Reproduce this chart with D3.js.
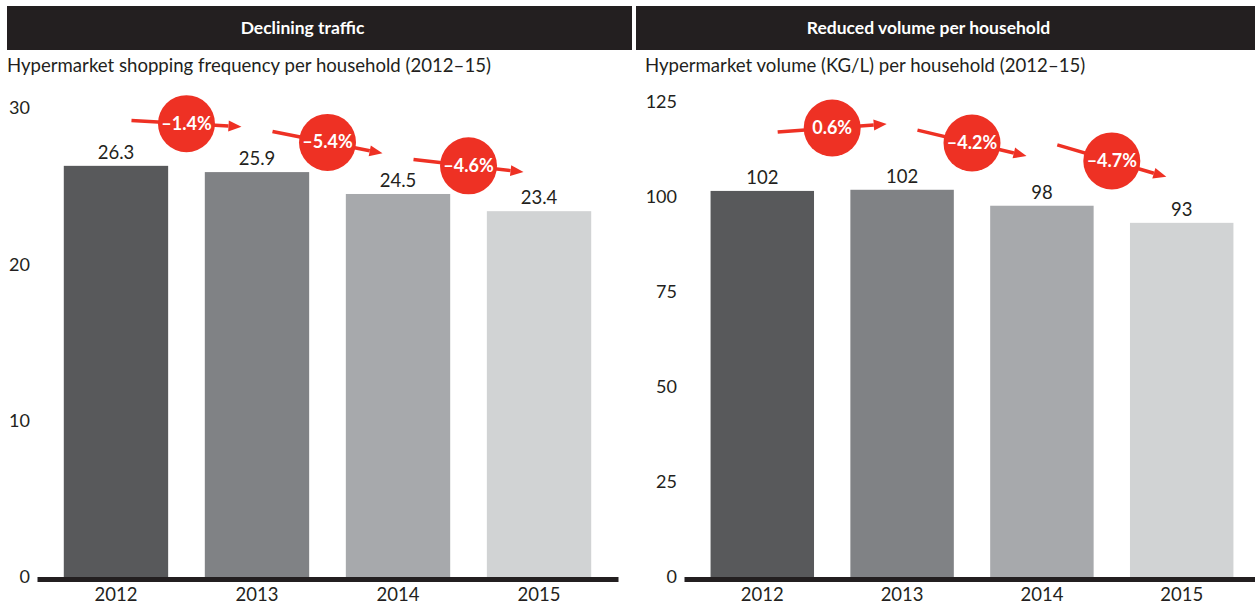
<!DOCTYPE html>
<html>
<head>
<meta charset="utf-8">
<script src="https://cdn.jsdelivr.net/npm/d3@7"></script>
<style>
  body { margin: 0; background: #fff; }
  svg { display: block; font-family: Lato, "Open Sans", sans-serif; }
  .head { font-family: Lato, sans-serif; font-weight: bold; }
</style>
</head>
<body>
<svg id="chart" width="1255" height="604"></svg>
<script>
'use strict';

const years = ['2012', '2013', '2014', '2015'];
const barColors = ['#58595b', '#808285', '#a7a9ac', '#d1d3d4'];

const freqValues = [26.3, 25.9, 24.5, 23.4];
const freqTicks = [0, 10, 20, 30];
const freqChanges = ['\u20131.4%', '\u20135.4%', '\u20134.6%'];
const freqArrowFrom = [29.2, 28.5, 26.7];
const freqArrowTo = [28.8, 27.1, 25.9];

const volumeValues = [101.6, 101.9, 97.7, 93.2];
const volumeTicks = [0, 25, 50, 75, 100, 125];
const volumeChanges = ['0.6%', '\u20134.2%', '\u20134.7%'];
const volumeArrowFrom = [117.1, 117.6, 113.7];
const volumeArrowTo = [119.2, 110.8, 105.3];

const red = '#ee3124';
const ink = '#231f20';

const svg = d3.select('#chart');

function drawPanel(opt) {
    const g = svg.append('g');

    // header bar
    g.append('rect')
        .attr('x', opt.headX).attr('y', 6)
        .attr('width', opt.headW).attr('height', 44)
        .attr('fill', ink);
    g.append('text')
        .attr('class', 'head')
        .attr('x', opt.headX + opt.headW / 2 - 17).attr('y', 34)
        .attr('text-anchor', 'middle')
        .attr('fill', '#fff')
        .attr('font-size', 17.5)
        .text(opt.title);

    g.append('text')
        .attr('x', opt.subX).attr('y', 72)
        .attr('fill', ink)
        .attr('font-size', 18.6)
        .text(opt.subtitle);

    const x = d3.scaleBand()
        .domain(years)
        .range(opt.xRange)
        .paddingInner(0.26)
        .paddingOuter(0.19);
    const y = d3.scaleLinear()
        .domain([0, d3.max(opt.ticks)])
        .range([577, opt.yTop]);

    // y axis labels
    const ya = g.append('g')
        .attr('transform', 'translate(' + opt.xRange[0] + ',0)')
        .call(d3.axisLeft(y).tickValues(opt.ticks).tickSize(0).tickPadding(7));
    ya.select('.domain').remove();
    ya.selectAll('text')
        .attr('font-size', 18)
        .attr('font-family', 'Lato, sans-serif')
        .attr('fill', ink);

    // bars
    g.selectAll('.bar')
        .data(opt.values)
        .enter().append('rect')
        .attr('class', 'bar')
        .attr('x', (d, i) => x(years[i]))
        .attr('y', d => y(d))
        .attr('width', x.bandwidth())
        .attr('height', d => y(0) - y(d))
        .attr('fill', (d, i) => barColors[i]);

    g.selectAll('.val')
        .data(opt.values)
        .enter().append('text')
        .attr('x', (d, i) => x(years[i]) + x.bandwidth() / 2)
        .attr('y', d => y(d) - 7)
        .attr('text-anchor', 'middle')
        .attr('fill', ink)
        .attr('font-size', 18.5)
        .text(d => opt.fmt(d));

    // x axis
    const xa = g.append('g')
        .attr('transform', 'translate(0,579)')
        .call(d3.axisBottom(x).tickSize(0).tickSizeOuter(0).tickPadding(9));
    xa.select('.domain')
        .attr('stroke', ink)
        .attr('stroke-width', 5);
    xa.selectAll('text')
        .attr('font-size', 18.5)
        .attr('font-family', 'Lato, sans-serif')
        .attr('fill', ink);

    // change arrows
    const step = x.step();
    const cx = i => x(years[i]) + x.bandwidth() / 2;
    opt.changes.forEach((label, i) => {
        const x1 = cx(i) + step * 0.11;
        const x2 = cx(i + 1) - step * 0.11;
        const y1 = y(opt.arrowFrom[i]);
        const y2 = y(opt.arrowTo[i]);
        const ang = Math.atan2(y2 - y1, x2 - x1);
        const hl = 13;
        const hw = 5.5;
        const bx = x2 - hl * Math.cos(ang);
        const by = y2 - hl * Math.sin(ang);
        g.append('line')
            .attr('x1', x1).attr('y1', y1)
            .attr('x2', bx).attr('y2', by)
            .attr('stroke', red)
            .attr('stroke-width', 3.5);
        g.append('path')
            .attr('d', 'M' + x2 + ',' + y2 +
                'L' + (bx + hw * Math.sin(ang)) + ',' + (by - hw * Math.cos(ang)) +
                'L' + (bx - hw * Math.sin(ang)) + ',' + (by + hw * Math.cos(ang)) + 'Z')
            .attr('fill', red);
        const mx = (x1 + x2) / 2;
        const my = (y1 + y2) / 2;
        g.append('circle')
            .attr('cx', mx).attr('cy', my)
            .attr('r', 28.5)
            .attr('fill', red);
        g.append('text')
            .attr('class', 'head')
            .attr('x', mx).attr('y', my + 6)
            .attr('text-anchor', 'middle')
            .attr('fill', '#fff')
            .attr('font-size', 18)
            .text(label);
    });
}

drawPanel({
    title: 'Declining traffic',
    subtitle: 'Hypermarket shopping frequency per household (2012\u201315)',
    headX: 7, headW: 625, subX: 7,
    xRange: [37, 618], yTop: 108,
    values: freqValues, ticks: freqTicks, fmt: d3.format('.1f'),
    changes: freqChanges, arrowFrom: freqArrowFrom, arrowTo: freqArrowTo
});

drawPanel({
    title: 'Reduced volume per household',
    subtitle: 'Hypermarket volume (KG/L) per household (2012\u201315)',
    headX: 636, headW: 619, subX: 645,
    xRange: [684, 1260], yTop: 102,
    values: volumeValues, ticks: volumeTicks, fmt: d3.format('.0f'),
    changes: volumeChanges, arrowFrom: volumeArrowFrom, arrowTo: volumeArrowTo
});
</script>
</body>
</html>
